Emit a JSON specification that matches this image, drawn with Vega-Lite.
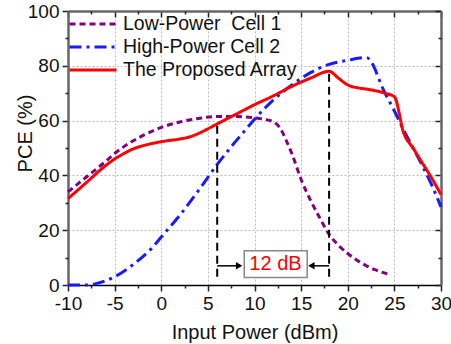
{
  "$schema": "https://vega.github.io/schema/vega-lite/v6.json",
  "width": 373,
  "height": 274,
  "autosize": {"type": "none"},
  "padding": {"left": 68, "top": 11, "right": 10, "bottom": 59},
  "background": "white",
  "config": {
    "font": "Liberation Sans",
    "view": {"stroke": null},
    "axis": {"labelFont": "Liberation Sans", "titleFont": "Liberation Sans", "labelFontSize": 19, "titleFontSize": 20, "labelColor": "#111", "titleColor": "#111", "titleFontWeight": "normal", "tickColor": "#222", "tickWidth": 1.5, "domainColor": "#666", "domainWidth": 2.5}
  },
  "datasets": {
    "curves": [
      {"series": "Low-Power\u00a0 Cell 1", "x": -10, "y": 34},
      {"series": "Low-Power\u00a0 Cell 1", "x": -8, "y": 39.5},
      {"series": "Low-Power\u00a0 Cell 1", "x": -6, "y": 45},
      {"series": "Low-Power\u00a0 Cell 1", "x": -5, "y": 48},
      {"series": "Low-Power\u00a0 Cell 1", "x": -4, "y": 50.5},
      {"series": "Low-Power\u00a0 Cell 1", "x": -2, "y": 54.5},
      {"series": "Low-Power\u00a0 Cell 1", "x": 0, "y": 57.5},
      {"series": "Low-Power\u00a0 Cell 1", "x": 2, "y": 59.5},
      {"series": "Low-Power\u00a0 Cell 1", "x": 4, "y": 60.8},
      {"series": "Low-Power\u00a0 Cell 1", "x": 6, "y": 61.5},
      {"series": "Low-Power\u00a0 Cell 1", "x": 8, "y": 61.5},
      {"series": "Low-Power\u00a0 Cell 1", "x": 10, "y": 61},
      {"series": "Low-Power\u00a0 Cell 1", "x": 11, "y": 60.5},
      {"series": "Low-Power\u00a0 Cell 1", "x": 12, "y": 59.6},
      {"series": "Low-Power\u00a0 Cell 1", "x": 12.7, "y": 57.5},
      {"series": "Low-Power\u00a0 Cell 1", "x": 13.5, "y": 52},
      {"series": "Low-Power\u00a0 Cell 1", "x": 14, "y": 48},
      {"series": "Low-Power\u00a0 Cell 1", "x": 15, "y": 38.5},
      {"series": "Low-Power\u00a0 Cell 1", "x": 16, "y": 31},
      {"series": "Low-Power\u00a0 Cell 1", "x": 17, "y": 24.5},
      {"series": "Low-Power\u00a0 Cell 1", "x": 18, "y": 18.5},
      {"series": "Low-Power\u00a0 Cell 1", "x": 19, "y": 14.5},
      {"series": "Low-Power\u00a0 Cell 1", "x": 20, "y": 11.5},
      {"series": "Low-Power\u00a0 Cell 1", "x": 21, "y": 9},
      {"series": "Low-Power\u00a0 Cell 1", "x": 22, "y": 7},
      {"series": "Low-Power\u00a0 Cell 1", "x": 23, "y": 5.5},
      {"series": "Low-Power\u00a0 Cell 1", "x": 24.5, "y": 3.8},
      {"series": "High-Power Cell 2", "x": -10, "y": 0},
      {"series": "High-Power Cell 2", "x": -8, "y": 0},
      {"series": "High-Power Cell 2", "x": -7, "y": 0.5},
      {"series": "High-Power Cell 2", "x": -5, "y": 3},
      {"series": "High-Power Cell 2", "x": -3, "y": 7.5},
      {"series": "High-Power Cell 2", "x": -1, "y": 13.5},
      {"series": "High-Power Cell 2", "x": 0, "y": 17.5},
      {"series": "High-Power Cell 2", "x": 2, "y": 25.5},
      {"series": "High-Power Cell 2", "x": 4, "y": 34.5},
      {"series": "High-Power Cell 2", "x": 6, "y": 44},
      {"series": "High-Power Cell 2", "x": 8, "y": 52.5},
      {"series": "High-Power Cell 2", "x": 9, "y": 56.5},
      {"series": "High-Power Cell 2", "x": 10, "y": 60.5},
      {"series": "High-Power Cell 2", "x": 12, "y": 67.5},
      {"series": "High-Power Cell 2", "x": 14, "y": 73},
      {"series": "High-Power Cell 2", "x": 16, "y": 77.5},
      {"series": "High-Power Cell 2", "x": 18, "y": 80.5},
      {"series": "High-Power Cell 2", "x": 20, "y": 82},
      {"series": "High-Power Cell 2", "x": 22, "y": 83},
      {"series": "High-Power Cell 2", "x": 24, "y": 70},
      {"series": "High-Power Cell 2", "x": 25, "y": 63.5},
      {"series": "High-Power Cell 2", "x": 26, "y": 56.5},
      {"series": "High-Power Cell 2", "x": 27, "y": 50},
      {"series": "High-Power Cell 2", "x": 28, "y": 43.5},
      {"series": "High-Power Cell 2", "x": 29, "y": 36.5},
      {"series": "High-Power Cell 2", "x": 30, "y": 28.5},
      {"series": "The Proposed Array", "x": -10, "y": 31.5},
      {"series": "The Proposed Array", "x": -8, "y": 37.5},
      {"series": "The Proposed Array", "x": -6, "y": 43.5},
      {"series": "The Proposed Array", "x": -5, "y": 46},
      {"series": "The Proposed Array", "x": -4, "y": 48},
      {"series": "The Proposed Array", "x": -3, "y": 49.7},
      {"series": "The Proposed Array", "x": -2, "y": 50.8},
      {"series": "The Proposed Array", "x": 0, "y": 52.3},
      {"series": "The Proposed Array", "x": 2, "y": 53.3},
      {"series": "The Proposed Array", "x": 3, "y": 54},
      {"series": "The Proposed Array", "x": 4, "y": 55.3},
      {"series": "The Proposed Array", "x": 5, "y": 57},
      {"series": "The Proposed Array", "x": 6, "y": 58.8},
      {"series": "The Proposed Array", "x": 8, "y": 62.3},
      {"series": "The Proposed Array", "x": 10, "y": 65.8},
      {"series": "The Proposed Array", "x": 12, "y": 69},
      {"series": "The Proposed Array", "x": 14, "y": 72.5},
      {"series": "The Proposed Array", "x": 16, "y": 75.5},
      {"series": "The Proposed Array", "x": 18, "y": 78},
      {"series": "The Proposed Array", "x": 19, "y": 75.5},
      {"series": "The Proposed Array", "x": 20, "y": 73},
      {"series": "The Proposed Array", "x": 21, "y": 72},
      {"series": "The Proposed Array", "x": 22, "y": 71.5},
      {"series": "The Proposed Array", "x": 24, "y": 70},
      {"series": "The Proposed Array", "x": 25, "y": 68.7},
      {"series": "The Proposed Array", "x": 26, "y": 55.5},
      {"series": "The Proposed Array", "x": 27, "y": 50},
      {"series": "The Proposed Array", "x": 28, "y": 44.5},
      {"series": "The Proposed Array", "x": 29, "y": 39},
      {"series": "The Proposed Array", "x": 30, "y": 33}
    ],
    "vlines": [
      {"x": 6, "y1": 3, "y2": 58.5},
      {"x": 18, "y1": 3, "y2": 78.3}
    ],
    "arrows": [
      {"x1": 6, "x2": 8.4, "y": 7},
      {"x1": 16.1, "x2": 18, "y": 7}
    ],
    "heads": [
      {"x": 8.35, "y": 7, "shape": "triangle-right"},
      {"x": 16.1, "y": 7, "shape": "triangle-left"}
    ],
    "box": [
      {"x1": 8.9, "x2": 15.65, "y1": 2.7, "y2": 12.5, "label": "12 dB", "xm": 12.25, "ym": 7.8}
    ]
  },
  "resolve": {"axis": {"x": "independent", "y": "independent"}},
  "layer": [
    {
      "data": {"name": "curves"},
      "mark": {"type": "line", "strokeWidth": 3, "interpolate": "monotone"},
      "encoding": {
        "x": {"field": "x", "type": "quantitative", "scale": {"domain": [-10, 30], "nice": false, "zero": false},
          "axis": {"orient": "bottom", "title": "Input Power (dBm)", "values": [-10, -5, 0, 5, 10, 15, 20, 25, 30], "labelExpr": "'' + datum.value", "tickSize": 6, "labelPadding": 3, "domainColor": "#000", "domainWidth": 1.5, "grid": true, "gridColor": "#bbb", "gridDash": [2, 2], "gridWidth": 1, "titleY": 47, "titleBaseline": "middle", "labelFlush": false}},
        "y": {"field": "y", "type": "quantitative", "scale": {"domain": [0, 100], "nice": false},
          "axis": {"orient": "left", "title": "PCE (%)", "values": [0, 20, 40, 60, 80, 100], "tickSize": 6, "labelPadding": 3, "grid": true, "gridColor": "#bbb", "gridDash": [2, 2], "gridWidth": 1, "titleX": -43, "titleBaseline": "middle", "titleAngle": -90, "titleY": 122}},
        "color": {"field": "series", "type": "nominal",
          "scale": {"domain": ["Low-Power\u00a0 Cell 1", "High-Power Cell 2", "The Proposed Array"], "range": ["#800080", "#1a1aff", "#ff0000"]},
          "legend": {"orient": "none", "legendX": 0, "legendY": 3, "title": null, "symbolType": "stroke", "symbolSize": 2209, "symbolStrokeWidth": 3, "labelFontSize": 19.5, "labelFont": "Liberation Sans", "labelColor": "#111", "labelOffset": 5, "labelLimit": 400, "clipHeight": 20, "rowPadding": 3, "padding": 0}},
        "strokeDash": {"field": "series", "type": "nominal",
          "scale": {"domain": ["Low-Power\u00a0 Cell 1", "High-Power Cell 2", "The Proposed Array"], "range": [[6, 4], [12, 5, 3, 5], [1, 0]]},
          "legend": {"orient": "none", "legendX": 0, "legendY": 3, "title": null, "symbolType": "stroke", "symbolSize": 2209, "symbolStrokeWidth": 3, "labelFontSize": 19.5, "labelFont": "Liberation Sans", "labelColor": "#111", "labelOffset": 5, "labelLimit": 400, "clipHeight": 20, "rowPadding": 3, "padding": 0}}
      }
    },
    {
      "data": {"name": "vlines"},
      "mark": {"type": "rule", "color": "#000", "strokeWidth": 2, "strokeDash": [8, 5]},
      "encoding": {
        "x": {"field": "x", "type": "quantitative", "scale": {"domain": [-10, 30], "nice": false, "zero": false},
          "axis": {"orient": "top", "title": null, "labels": false, "grid": false, "values": [-10, -5, 0, 5, 10, 15, 20, 25, 30], "tickSize": -6}},
        "y": {"field": "y1", "type": "quantitative", "scale": {"domain": [0, 100], "nice": false},
          "axis": {"orient": "right", "title": null, "labels": false, "grid": false, "values": [0, 20, 40, 60, 80, 100], "tickSize": -6}},
        "y2": {"field": "y2"}
      }
    },
    {
      "data": {"name": "arrows"},
      "mark": {"type": "rule", "color": "#000", "strokeWidth": 1.5},
      "encoding": {
        "x": {"field": "x1", "type": "quantitative", "scale": {"domain": [-10, 30], "nice": false, "zero": false},
          "axis": {"orient": "bottom", "title": null, "labels": false, "grid": false, "domain": false, "values": [-7.5, -2.5, 2.5, 7.5, 12.5, 17.5, 22.5, 27.5], "tickSize": 3}},
        "x2": {"field": "x2"},
        "y": {"field": "y", "type": "quantitative", "scale": {"domain": [0, 100], "nice": false},
          "axis": {"orient": "left", "title": null, "labels": false, "grid": false, "domain": false, "values": [10, 30, 50, 70, 90], "tickSize": 3}}
      }
    },
    {
      "data": {"name": "heads"},
      "mark": {"type": "point", "filled": true, "color": "#000", "size": 55, "opacity": 1},
      "encoding": {
        "x": {"field": "x", "type": "quantitative", "scale": {"domain": [-10, 30], "nice": false, "zero": false},
          "axis": {"orient": "top", "title": null, "labels": false, "grid": false, "domain": false, "values": [-7.5, -2.5, 2.5, 7.5, 12.5, 17.5, 22.5, 27.5], "tickSize": -3}},
        "y": {"field": "y", "type": "quantitative", "scale": {"domain": [0, 100], "nice": false},
          "axis": {"orient": "right", "title": null, "labels": false, "grid": false, "domain": false, "values": [10, 30, 50, 70, 90], "tickSize": -3}},
        "shape": {"field": "shape", "type": "nominal", "scale": null, "legend": null}
      }
    },
    {
      "data": {"name": "box"},
      "mark": {"type": "rect", "fill": "white", "stroke": "#888", "strokeWidth": 1.5},
      "encoding": {
        "x": {"field": "x1", "type": "quantitative", "scale": {"domain": [-10, 30], "nice": false, "zero": false}, "axis": null},
        "x2": {"field": "x2"},
        "y": {"field": "y1", "type": "quantitative", "scale": {"domain": [0, 100], "nice": false}, "axis": null},
        "y2": {"field": "y2"}
      }
    },
    {
      "data": {"name": "box"},
      "mark": {"type": "text", "color": "#ff0000", "fontSize": 20, "font": "Liberation Sans", "baseline": "middle", "align": "center"},
      "encoding": {
        "x": {"field": "xm", "type": "quantitative", "scale": {"domain": [-10, 30], "nice": false, "zero": false}, "axis": null},
        "y": {"field": "ym", "type": "quantitative", "scale": {"domain": [0, 100], "nice": false}, "axis": null},
        "text": {"field": "label"}
      }
    }
  ]
}
